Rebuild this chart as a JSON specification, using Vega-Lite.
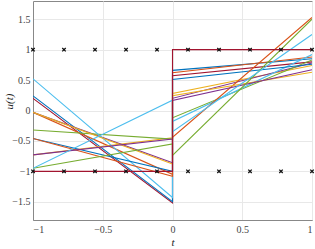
{
  "$schema": "https://vega.github.io/schema/vega-lite/v6.json",
  "autosize": "none",
  "width": 279,
  "height": 219,
  "padding": {"left": 33, "top": 1, "right": 3, "bottom": 29},
  "background": "white",
  "config": {
    "view": {"stroke": "#888888", "strokeWidth": 1},
    "axis": {"labelFont": "Liberation Serif", "titleFont": "Liberation Serif", "labelFontSize": 10, "labelColor": "#444444", "gridColor": "#e8e8e8", "domainColor": "#888888", "ticks": false, "titleColor": "#222222", "titleFontWeight": "normal", "titleFontStyle": "italic", "titleFontSize": 11, "format": "~g"}
  },
  "datasets": {
    "lines": [
      {"id": "7", "k": 0, "t": -1, "u": 0.2}, {"id": "7", "k": 1, "t": 0, "u": -1.52}, {"id": "7", "k": 2, "t": 0, "u": 0.57}, {"id": "7", "k": 3, "t": 1, "u": 0.8},
      {"id": "1", "k": 0, "t": -1, "u": 0.24}, {"id": "1", "k": 1, "t": 0, "u": -1.5}, {"id": "1", "k": 2, "t": 0, "u": 0.66}, {"id": "1", "k": 3, "t": 1, "u": 0.85},
      {"id": "2", "k": 0, "t": -1, "u": -0.03}, {"id": "2", "k": 1, "t": 0, "u": -1.05}, {"id": "2", "k": 2, "t": 0, "u": 0.62}, {"id": "2", "k": 3, "t": 1, "u": 0.88},
      {"id": "3", "k": 0, "t": -1, "u": -0.73}, {"id": "3", "k": 1, "t": 0, "u": -0.45}, {"id": "3", "k": 2, "t": 0, "u": 0.28}, {"id": "3", "k": 3, "t": 1, "u": 0.74},
      {"id": "4", "k": 0, "t": -1, "u": -0.03}, {"id": "4", "k": 1, "t": 0, "u": -0.86}, {"id": "4", "k": 2, "t": 0, "u": 0.2}, {"id": "4", "k": 3, "t": 1, "u": 0.78},
      {"id": "5", "k": 0, "t": -1, "u": -0.32}, {"id": "5", "k": 1, "t": 0, "u": -0.47}, {"id": "5", "k": 2, "t": 0, "u": -0.12}, {"id": "5", "k": 3, "t": 1, "u": 0.83},
      {"id": "6", "k": 0, "t": -1, "u": 0.52}, {"id": "6", "k": 1, "t": 0, "u": -1.43}, {"id": "6", "k": 2, "t": 0, "u": -0.18}, {"id": "6", "k": 3, "t": 1, "u": 0.92},
      {"id": "8", "k": 0, "t": -1, "u": -0.46}, {"id": "8", "k": 1, "t": 0, "u": -1.0}, {"id": "8", "k": 2, "t": 0, "u": 0.51}, {"id": "8", "k": 3, "t": 1, "u": 0.76},
      {"id": "9", "k": 0, "t": -1, "u": -0.46}, {"id": "9", "k": 1, "t": 0, "u": -1.08}, {"id": "9", "k": 2, "t": 0, "u": -0.44}, {"id": "9", "k": 3, "t": 1, "u": 1.53},
      {"id": "10", "k": 0, "t": -1, "u": -0.03}, {"id": "10", "k": 1, "t": 0, "u": -0.88}, {"id": "10", "k": 2, "t": 0, "u": 0.245}, {"id": "10", "k": 3, "t": 1, "u": 0.63},
      {"id": "11", "k": 0, "t": -1, "u": -0.73}, {"id": "11", "k": 1, "t": 0, "u": -0.47}, {"id": "11", "k": 2, "t": 0, "u": 0.165}, {"id": "11", "k": 3, "t": 1, "u": 0.67},
      {"id": "12", "k": 0, "t": -1, "u": -0.95}, {"id": "12", "k": 1, "t": 0, "u": -0.55}, {"id": "12", "k": 2, "t": 0, "u": -0.74}, {"id": "12", "k": 3, "t": 1, "u": 1.5},
      {"id": "13", "k": 0, "t": -1, "u": -0.95}, {"id": "13", "k": 1, "t": 0, "u": 0.17}, {"id": "13", "k": 2, "t": 0, "u": -0.35}, {"id": "13", "k": 3, "t": 1, "u": 1.25},
      {"id": "step", "k": 0, "t": -1, "u": -1}, {"id": "step", "k": 1, "t": 0, "u": -1}, {"id": "step", "k": 2, "t": 0, "u": 1}, {"id": "step", "k": 3, "t": 1, "u": 1}
    ],
    "marks": [
      {"t": -1, "u": 1}, {"t": -0.7778, "u": 1}, {"t": -0.5556, "u": 1}, {"t": -0.3333, "u": 1}, {"t": -0.1111, "u": 1},
      {"t": 0.1111, "u": 1}, {"t": 0.3333, "u": 1}, {"t": 0.5556, "u": 1}, {"t": 0.7778, "u": 1}, {"t": 1, "u": 1},
      {"t": -1, "u": -1}, {"t": -0.7778, "u": -1}, {"t": -0.5556, "u": -1}, {"t": -0.3333, "u": -1}, {"t": -0.1111, "u": -1},
      {"t": 0.1111, "u": -1}, {"t": 0.3333, "u": -1}, {"t": 0.5556, "u": -1}, {"t": 0.7778, "u": -1}, {"t": 1, "u": -1}
    ]
  },
  "encoding": {
    "x": {"field": "t", "type": "quantitative", "scale": {"domain": [-1, 1], "nice": false}, "axis": {"values": [-1, -0.5, 0, 0.5, 1], "title": "t", "titlePadding": 2, "labelPadding": 4, "grid": true}},
    "y": {"field": "u", "type": "quantitative", "scale": {"domain": [-1.8, 1.8], "nice": false}, "axis": {"values": [-1.5, -1, -0.5, 0, 0.5, 1, 1.5], "title": "u(t)", "titleX": -19, "titleY": 100, "titlePadding": 2, "labelPadding": 3, "grid": true}}
  },
  "layer": [
    {
      "data": {"name": "lines"},
      "mark": {"type": "line", "strokeWidth": 1.1, "clip": true},
      "encoding": {
        "order": {"field": "k", "type": "quantitative"},
        "color": {"field": "id", "type": "nominal", "legend": null,
          "scale": {"domain": ["1", "2", "3", "4", "5", "6", "7", "8", "9", "10", "11", "12", "13", "step"],
            "range": ["#0072BD", "#D95319", "#EDB120", "#7E2F8E", "#77AC30", "#4DBEEE", "#A2142F", "#0072BD", "#D95319", "#EDB120", "#7E2F8E", "#77AC30", "#4DBEEE", "#A2142F"]}}
      }
    },
    {
      "data": {"name": "marks"},
      "mark": {"type": "point", "shape": "M-1,-1L1,1M-1,1L1,-1", "filled": false, "size": 12, "strokeWidth": 1.3, "color": "#111111", "opacity": 1}
    }
  ]
}
